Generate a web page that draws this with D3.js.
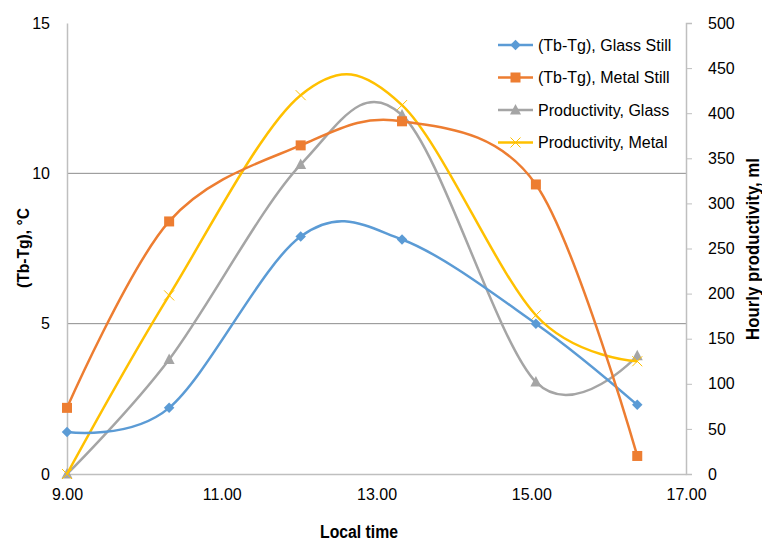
<!DOCTYPE html>
<html>
<head>
<meta charset="utf-8">
<script src="https://cdn.jsdelivr.net/npm/d3@7"></script>
<style>
  html, body { margin: 0; padding: 0; background: #fff; }
  svg { display: block; }
  text { font-family: "Liberation Sans", Arial, sans-serif; fill: #000; }
  .title { font-weight: bold; }
</style>
</head>
<body>
<svg id="chart" width="762" height="542"></svg>
<script>
// Local time of each reading (decimal hours)
const times = [9.0, 10.32, 12.02, 13.33, 15.06, 16.37];

// Temperature difference (Tb-Tg), °C — left axis
const glassStill = [1.4, 2.2, 7.9, 7.8, 5.0, 2.3];
const metalStill = [2.2, 8.4, 10.93, 11.73, 9.63, 0.6];

// Hourly productivity, ml — right axis
const prodGlass = [0, 127, 343, 398, 102, 131];
const prodMetal = [0, 198, 420, 409, 176, 125];

// Axis ticks
const xTicks = [9, 11, 13, 15, 17];
const leftTicks = [0, 5, 10, 15];
const rightTicks = [0, 50, 100, 150, 200, 250, 300, 350, 400, 450, 500];

const seriesNames = ["(Tb-Tg), Glass Still", "(Tb-Tg), Metal Still", "Productivity, Glass", "Productivity, Metal"];
const seriesColors = ["#5B9BD5", "#ED7D31", "#A5A5A5", "#FFC000"];
const seriesMarkers = ["diamond", "square", "triangle", "cross"];

const svg = d3.select("#chart");
const plot = { left: 67, right: 686, top: 23, bottom: 474 };

const x = d3.scaleLinear().domain([9, 17]).range([plot.left, plot.right]);
const yL = d3.scaleLinear().domain([0, 15]).range([plot.bottom, plot.top]);
const yR = d3.scaleLinear().domain([0, 500]).range([plot.bottom, plot.top]);

// Horizontal gridlines from the left axis
svg.append("g")
  .selectAll("line")
  .data(leftTicks.filter(d => d > 0 && d < 15))
  .join("line")
  .attr("x1", plot.left).attr("x2", plot.right)
  .attr("y1", d => yL(d)).attr("y2", d => yL(d))
  .attr("stroke", "#8c8c8c").attr("stroke-width", 1);

// Left axis
const gL = svg.append("g").attr("transform", `translate(${plot.left},0)`)
  .call(d3.axisLeft(yL).tickValues(leftTicks).tickSize(0).tickPadding(17).tickFormat(d3.format("d")));
gL.select(".domain").attr("stroke", "#bfbfbf").attr("stroke-width", 1.5);
gL.selectAll("text").style("font-size", "16px").attr("fill", "#000");

// Right axis
const gR = svg.append("g").attr("transform", `translate(${plot.right},0)`)
  .call(d3.axisRight(yR).tickValues(rightTicks).tickSize(6).tickPadding(16).tickFormat(d3.format("d")));
gR.select(".domain").attr("stroke", "#bfbfbf").attr("stroke-width", 1.5);
gR.selectAll(".tick line").attr("stroke", "#bfbfbf");
gR.selectAll("text").style("font-size", "16px").attr("fill", "#000").attr("text-anchor", "start");

// Bottom axis
const gX = svg.append("g").attr("transform", `translate(0,${plot.bottom})`)
  .call(d3.axisBottom(x).tickValues(xTicks).tickSize(0).tickPadding(15).tickFormat(d3.format(".2f")));
gX.select(".domain").attr("stroke", "#bfbfbf").attr("stroke-width", 1.5);
gX.selectAll("text").style("font-size", "16px").attr("fill", "#000");

// Axis titles (condensed bold)
svg.append("text").attr("class", "title")
  .attr("x", 320).attr("y", 538)
  .attr("textLength", 78).attr("lengthAdjust", "spacingAndGlyphs")
  .style("font-size", "18px")
  .text("Local time");

svg.append("text").attr("class", "title")
  .attr("transform", "translate(29,288) rotate(-90)")
  .attr("textLength", 80).attr("lengthAdjust", "spacingAndGlyphs")
  .style("font-size", "17px")
  .text("(Tb-Tg), °C");

svg.append("text").attr("class", "title")
  .attr("transform", "translate(759,340) rotate(-90)")
  .attr("textLength", 182).attr("lengthAdjust", "spacingAndGlyphs")
  .style("font-size", "18px")
  .text("Hourly productivity, ml");

// Series definitions: secondary-axis series underneath, primary on top
const series = [
  { values: prodGlass, scale: yR, idx: 2 },
  { values: prodMetal, scale: yR, idx: 3 },
  { values: glassStill, scale: yL, idx: 0 },
  { values: metalStill, scale: yL, idx: 1 }
];

const line = d3.line().curve(d3.curveCatmullRom.alpha(0));

function drawMarker(g, type, cx, cy, color) {
  if (type === "diamond") {
    g.append("path").attr("d", d3.symbol(d3.symbolDiamond2, 70)()).attr("transform", `translate(${cx},${cy})`)
      .attr("fill", color);
  } else if (type === "square") {
    g.append("rect").attr("x", cx - 5).attr("y", cy - 5).attr("width", 10).attr("height", 10).attr("fill", color);
  } else if (type === "triangle") {
    g.append("path").attr("d", `M${cx},${cy - 6}L${cx + 5.5},${cy + 4.5}L${cx - 5.5},${cy + 4.5}Z`).attr("fill", color);
  } else {
    g.append("path").attr("d", `M${cx - 5},${cy - 5}L${cx + 5},${cy + 5}M${cx - 5},${cy + 5}L${cx + 5},${cy - 5}`)
      .attr("stroke", color).attr("stroke-width", 1).attr("fill", "none");
  }
}

series.forEach(s => {
  const pts = times.map((t, i) => [x(t), s.scale(s.values[i])]);
  const color = seriesColors[s.idx];
  const g = svg.append("g");
  g.append("path").attr("d", line(pts)).attr("fill", "none")
    .attr("stroke", color).attr("stroke-width", 2.5).attr("stroke-linejoin", "round");
  pts.forEach(p => drawMarker(g, seriesMarkers[s.idx], p[0], p[1], color));
});

// Legend
const legend = svg.append("g");
seriesNames.forEach((name, i) => {
  const ly = 45 + i * 32.5;
  const color = seriesColors[i];
  const row = legend.append("g");
  row.append("line").attr("x1", 498).attr("x2", 533).attr("y1", ly).attr("y2", ly)
    .attr("stroke", color).attr("stroke-width", 2.5);
  drawMarker(row, seriesMarkers[i], 515.5, ly, color);
  row.append("text").attr("x", 538).attr("y", ly).attr("dy", "0.35em")
    .style("font-size", "16px").text(name);
});
</script>
</body>
</html>
